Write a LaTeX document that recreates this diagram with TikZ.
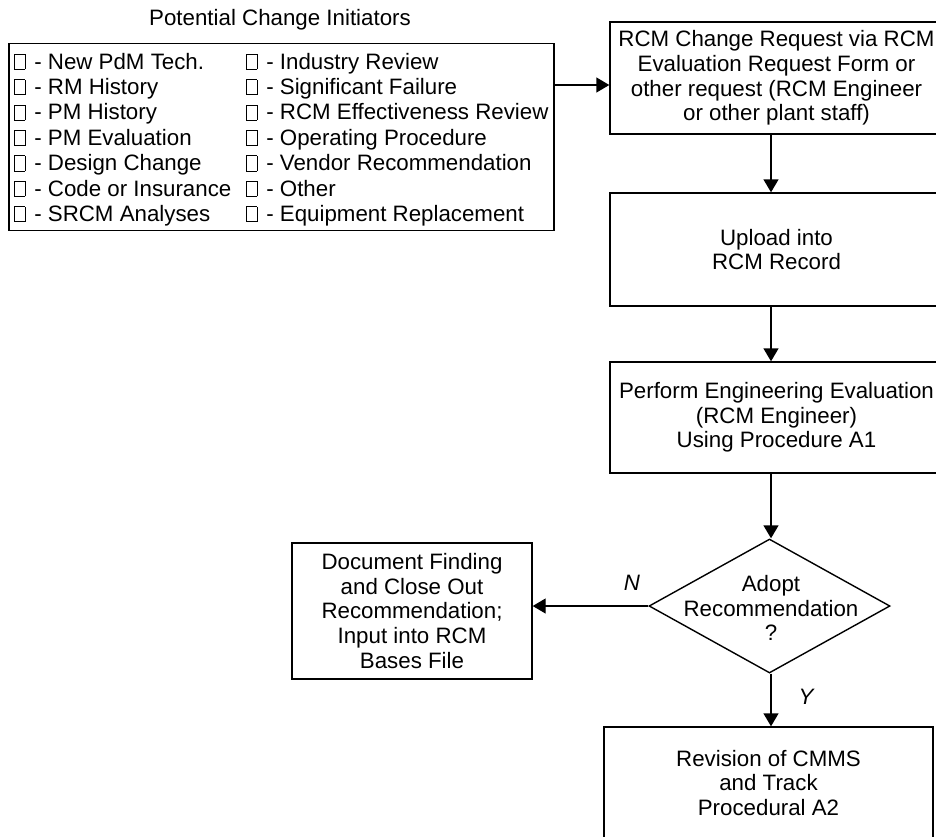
\documentclass[tikz,border=0pt]{standalone}
\usepackage{fontspec}
\setmainfont{Liberation Sans}
\usetikzlibrary{arrows.meta,shapes.geometric}
\newcommand{\cbx}{{\fboxsep=0pt\fboxrule=0.8pt\fbox{\rule{0pt}{14.5pt}\hspace{9.5pt}}}\hspace{9pt}}
\tikzset{
  fnt/.style={font=\fontsize{22.3pt}{24.7pt}\selectfont},
  box/.style={draw,line width=1.4pt,inner sep=0pt,align=center,fnt},
  txt/.style={inner sep=0pt,align=center,fnt},
  item/.style={inner sep=0pt,anchor=base west,fnt},
  lbl/.style={inner sep=0pt,font=\fontsize{22.3pt}{24.7pt}\selectfont\itshape},
  arr/.style={line width=1.4pt,-{Triangle[length=13pt,width=15pt]}}
}
\begin{document}
\begin{tikzpicture}[x=1pt,y=-1pt]
\clip (0,0) rectangle (936,836);
% title
\node[txt] (title) at (280,20) {Potential Change Initiators};
% initiators box
\node[draw,line width=1.4pt,minimum width=545pt,minimum height=187pt,inner sep=0pt] (init) at (281.5,137) {};
\foreach \t [count=\i] in {New PdM Tech.,RM History,PM History,PM Evaluation,Design Change,Code or Insurance,SRCM Analyses}
  \node[item] (a\i) at (14,{69+25.4*(\i-1)}) {\cbx- \t};
\foreach \t [count=\i] in {Industry Review,Significant Failure,RCM Effectiveness Review,Operating Procedure,Vendor Recommendation,Other,Equipment Replacement}
  \node[item] (b\i) at (246,{69+25.4*(\i-1)}) {\cbx- \t};
% right column boxes
\node[box,minimum width=333pt,minimum height=112pt] (req) at (776.5,78) {RCM Change Request via RCM\\Evaluation Request Form or\\other request (RCM Engineer\\or other plant staff)};
\node[box,minimum width=333pt,minimum height=113pt] (up) at (776.5,249.5) {Upload into\\RCM Record};
\node[box,minimum width=333pt,minimum height=111pt] (eval) at (776.5,417.5) {Perform Engineering Evaluation\\(RCM Engineer)\\Using Procedure A1};
\node[draw,line width=1.4pt,diamond,minimum width=241pt,minimum height=134pt,inner sep=0pt] (dec) at (769.5,606) {};
\node[txt] (dect) at (771,608) {Adopt\\Recommendation\\?};
\node[box,minimum width=240pt,minimum height=136pt] (doc) at (412,611) {Document Finding\\and Close Out\\Recommendation;\\Input into RCM\\Bases File};
\node[box,minimum width=329pt,minimum height=112pt] (rev) at (768.5,783) {Revision of CMMS\\and Track\\Procedural A2};
% connectors
\coordinate (j) at (580,85);
\coordinate (vx) at (771,0);
\draw[arr] (init.east |- j) -- (req.west |- j);
\draw[arr] (req.south -| vx) -- (up.north -| vx);
\draw[arr] (up.south -| vx) -- (eval.north -| vx);
\draw[arr] (eval.south -| vx) -- (dec.north -| vx);
\draw[arr] (dec.west) -- (doc.east |- dec.west);
\draw[arr] (dec.south -| vx) -- (rev.north -| vx);
\node[lbl] (n) at (632,583) {N};
\node[lbl] (y) at (806,697) {Y};
\end{tikzpicture}
\end{document}
